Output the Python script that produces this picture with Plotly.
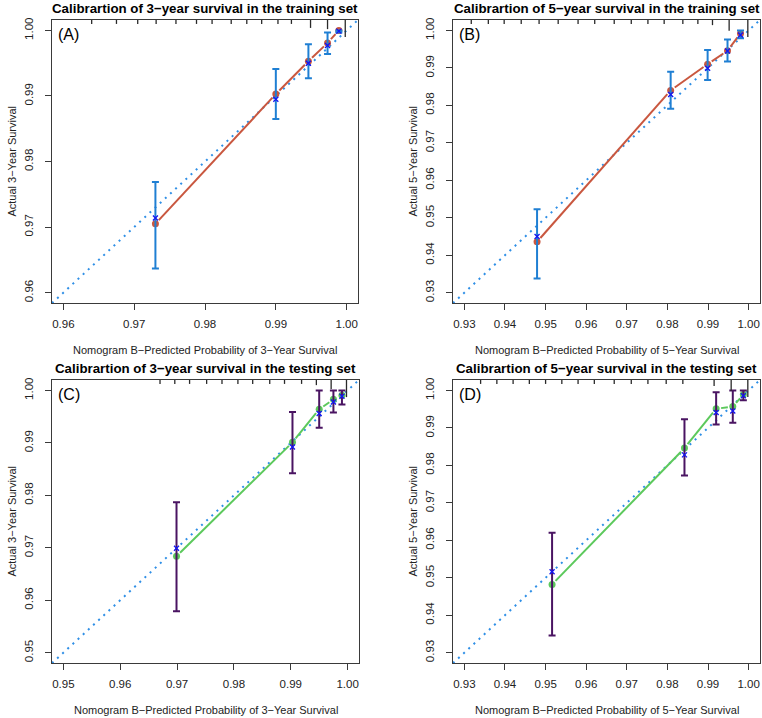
import math
import plotly.graph_objects as go

# ---------------- data ----------------
# Panel A: 3-year, training
A_pred = [0.9730, 0.9900, 0.9946, 0.9973, 0.9989]
A_cal = [0.9705, 0.9903, 0.9953, 0.9981, 1.0000]
A_obs = [0.9714, 0.9895, 0.9950, 0.9977, 0.9999]
A_low = [0.9637, 0.9865, 0.9927, 0.9964, 0.9997]
A_up = [0.9769, 0.9941, 0.9979, 0.9997, 1.0000]
A_rug = [0.9640, 0.9675, 0.9705, 0.9731, 0.9759, 0.9788, 0.9810, 0.9837,
         0.9859, 0.9880, 0.9903, 0.9922, 0.9949, 0.9973, 0.9998]
A_rugn = [1, 1, 1, 1, 1, 1, 1, 1, 1, 1, 1, 1, 2, 2.3, 4.3]

# Panel B: 5-year, training
B_pred = [0.9479, 0.9808, 0.9899, 0.9948, 0.9980]
B_cal = [0.9436, 0.9840, 0.9910, 0.9946, 0.9992]
B_obs = [0.9450, 0.9829, 0.9899, 0.9945, 0.9988]
B_low = [0.9338, 0.9791, 0.9868, 0.9917, 0.9979]
B_up = [0.9523, 0.9890, 0.9948, 0.9976, 1.0000]
B_rug = [0.9317, 0.9359, 0.9398, 0.9440, 0.9484, 0.9531, 0.9580, 0.9621,
         0.9669, 0.9711, 0.9752, 0.9792, 0.9838, 0.9875, 0.9911, 0.9952, 0.9998]
B_rugn = [1, 1, 1, 1, 1, 1, 1, 1, 1, 1, 1, 1, 1, 1, 1.3, 2.7, 4.3]

# Panel C: 3-year, testing
C_pred = [0.9699, 0.9903, 0.9950, 0.9975, 0.9990]
C_cal = [0.9684, 0.9901, 0.9964, 0.9983, 0.9991]
C_obs = [0.9699, 0.9892, 0.9956, 0.9978, 0.9989]
C_low = [0.9579, 0.9842, 0.9929, 0.9958, 0.9973]
C_up = [0.9787, 0.9959, 1.0000, 1.0000, 1.0000]
C_rug = [0.9670, 0.9696, 0.9722, 0.9752, 0.9779, 0.9807, 0.9833, 0.9863,
         0.9889, 0.9919, 0.9945, 0.9971, 0.9998]
C_rugn = [1, 1, 1, 1, 1, 1, 1, 1, 1, 1, 1.3, 2.3, 4.3]

# Panel D: 5-year, testing
D_pred = [0.9516, 0.9842, 0.9920, 0.9961, 0.9987]
D_cal = [0.9482, 0.9846, 0.9951, 0.9957, 0.9989]
D_obs = [0.9516, 0.9828, 0.9941, 0.9945, 0.9986]
D_low = [0.9346, 0.9773, 0.9909, 0.9914, 0.9974]
D_up = [0.9620, 0.9923, 0.9995, 1.0000, 1.0000]
D_rug = [0.9340, 0.9380, 0.9420, 0.9460, 0.9500, 0.9540, 0.9580, 0.9620,
         0.9669, 0.9711, 0.9752, 0.9797, 0.9838, 0.9915, 0.9957, 0.9998]
D_rugn = [1, 1, 1, 1, 1, 1, 1, 1, 1, 1, 1, 1, 1, 1.5, 2.7, 4.3]

titles = ["Calibrartion of 3\u2212year survival in the training set",
          "Calibrartion of 5\u2212year survival in the training set",
          "Calibrartion of 3\u2212year survival in the testing set",
          "Calibrartion of 5\u2212year survival in the testing set"]
xlabels = ["Nomogram B\u2212Predicted Probability of 3\u2212Year Survival",
           "Nomogram B\u2212Predicted Probability of 5\u2212Year Survival",
           "Nomogram B\u2212Predicted Probability of 3\u2212Year Survival",
           "Nomogram B\u2212Predicted Probability of 5\u2212Year Survival"]
ylabels = ["Actual 3\u2212Year Survival", "Actual 5\u2212Year Survival",
           "Actual 3\u2212Year Survival", "Actual 5\u2212Year Survival"]
tags = ["(A)", "(B)", "(C)", "(D)"]
lims = [(0.96, 1.00), (0.93, 1.00), (0.95, 1.00), (0.93, 1.00)]

# ---------------- layout / style ----------------
W, H = 762, 718
FONT = "Liberation Sans, Arial, sans-serif"
boxes = [(52, 358, 18, 302), (453, 760, 18, 302),
         (52, 359, 379, 663), (453, 760, 379, 663)]
line_cols = ["#C9573F", "#C9573F", "#5CC95C", "#5CC95C"]
err_cols = ["#1F7FD3", "#1F7FD3", "#4A1462", "#4A1462"]
diag_col = "#2F8FE6"
x_col = "#1515F0"

panels = [
    (A_pred, A_cal, A_obs, A_low, A_up, A_rug, A_rugn),
    (B_pred, B_cal, B_obs, B_low, B_up, B_rug, B_rugn),
    (C_pred, C_cal, C_obs, C_low, C_up, C_rug, C_rugn),
    (D_pred, D_cal, D_obs, D_low, D_up, D_rug, D_rugn),
]

fig = go.Figure()
annotations = []
shapes = []
layout_axes = {}

for i, (pred, cal, obs, low, up, rug, rugn) in enumerate(panels):
    x0, x1, y0, y1 = boxes[i]
    lo, hi = lims[i]
    ext = (hi - lo) * 0.04
    r0, r1 = lo - ext, hi + ext
    sx = (x1 - x0) / (r1 - r0)
    sy = (y1 - y0) / (r1 - r0)
    xa = "x" if i == 0 else f"x{i+1}"
    ya = "y" if i == 0 else f"y{i+1}"
    xkey = "xaxis" if i == 0 else f"xaxis{i+1}"
    ykey = "yaxis" if i == 0 else f"yaxis{i+1}"
    nt = int(round((hi - lo) / 0.01)) + 1
    tickv = [round(lo + 0.01 * k, 2) for k in range(nt)]
    tickt = [f"{v:.2f}" for v in tickv]
    common = dict(range=[r0, r1], showline=True, mirror=True, linecolor="#3a3a3a",
                  linewidth=1.2, ticks="outside", ticklen=6, tickcolor="#3a3a3a",
                  tickwidth=1, showgrid=False, zeroline=False, tickvals=tickv,
                  ticktext=tickt, tickfont=dict(family=FONT, size=11.5, color="#222"),
                  fixedrange=True)
    layout_axes[xkey] = dict(domain=[x0 / W, x1 / W], anchor=ya,
                             ticklabelstandoff=4, **common)
    layout_axes[ykey] = dict(domain=[1 - y1 / H, 1 - y0 / H], anchor=xa,
                             tickangle=-90, ticklabelstandoff=7, **common)

    # diagonal reference
    fig.add_trace(go.Scatter(x=[r0, r1], y=[r0, r1], mode="lines", xaxis=xa, yaxis=ya,
                             line=dict(color=diag_col, width=2, dash="2px,5px"),
                             hoverinfo="skip", showlegend=False))
    # rug of predicted risks along the top edge
    for v, n in zip(rug, rugn):
        hpx = 4.0 * n
        shapes.append(dict(type="line", xref=xa, yref=f"{ya} domain",
                           x0=v, x1=v, y0=1.0, y1=1.0 - hpx / (y1 - y0),
                           line=dict(color="#2a2a2a", width=1.3), layer="above"))
    # calibration line with gaps around points (type = "b")
    gap = 5.0
    lx, ly = [], []
    for k in range(len(pred) - 1):
        dx = (pred[k + 1] - pred[k]) * sx
        dy = (cal[k + 1] - cal[k]) * sy
        L = math.hypot(dx, dy)
        if L > 2 * gap + 1:
            f = gap / L
            ax_ = pred[k] + (pred[k + 1] - pred[k]) * f
            ay_ = cal[k] + (cal[k + 1] - cal[k]) * f
            bx_ = pred[k + 1] - (pred[k + 1] - pred[k]) * f
            by_ = cal[k + 1] - (cal[k + 1] - cal[k]) * f
            lx += [ax_, bx_, None]
            ly += [ay_, by_, None]
    fig.add_trace(go.Scatter(x=lx, y=ly, mode="lines", xaxis=xa, yaxis=ya,
                             line=dict(color=line_cols[i], width=2),
                             hoverinfo="skip", showlegend=False))
    fig.add_trace(go.Scatter(x=pred, y=cal, mode="markers", xaxis=xa, yaxis=ya,
                             marker=dict(color=line_cols[i], size=7),
                             showlegend=False))
    # error bars + observed (x)
    fig.add_trace(go.Scatter(
        x=pred, y=obs, mode="markers", xaxis=xa, yaxis=ya,
        marker=dict(symbol="x-thin", size=5, line=dict(color=x_col, width=1.3),
                    color=x_col),
        error_y=dict(type="data", symmetric=False,
                     array=[u - o for u, o in zip(up, obs)],
                     arrayminus=[o - l for o, l in zip(obs, low)],
                     color=err_cols[i], thickness=2, width=3.5),
        showlegend=False))

    cx = (x0 + x1) / 2
    annotations.append(dict(text="<b>" + titles[i] + "</b>", x=cx / W, y=1 - (y0 - 11) / H,
                            xref="paper", yref="paper", xanchor="center", yanchor="middle",
                            showarrow=False, font=dict(family=FONT, size=13.3, color="#000")))
    annotations.append(dict(text=xlabels[i], x=cx / W, y=1 - (y1 + 47) / H,
                            xref="paper", yref="paper", xanchor="center", yanchor="middle",
                            showarrow=False, font=dict(family=FONT, size=11, color="#222")))
    annotations.append(dict(text=ylabels[i], x=(x0 - 40) / W, y=1 - ((y0 + y1) / 2) / H,
                            xref="paper", yref="paper", xanchor="center", yanchor="middle",
                            textangle=-90, showarrow=False,
                            font=dict(family=FONT, size=11, color="#222")))
    annotations.append(dict(text=tags[i], x=(x0 + 4) / W, y=1 - (y0 + 15) / H,
                            xref="paper", yref="paper", xanchor="left", yanchor="middle",
                            showarrow=False, font=dict(family=FONT, size=16, color="#000")))

fig.update_layout(width=W, height=H, margin=dict(l=0, r=0, t=0, b=0),
                  paper_bgcolor="white", plot_bgcolor="white",
                  annotations=annotations, shapes=shapes, showlegend=False, **layout_axes)

fig.write_html("out.html")
